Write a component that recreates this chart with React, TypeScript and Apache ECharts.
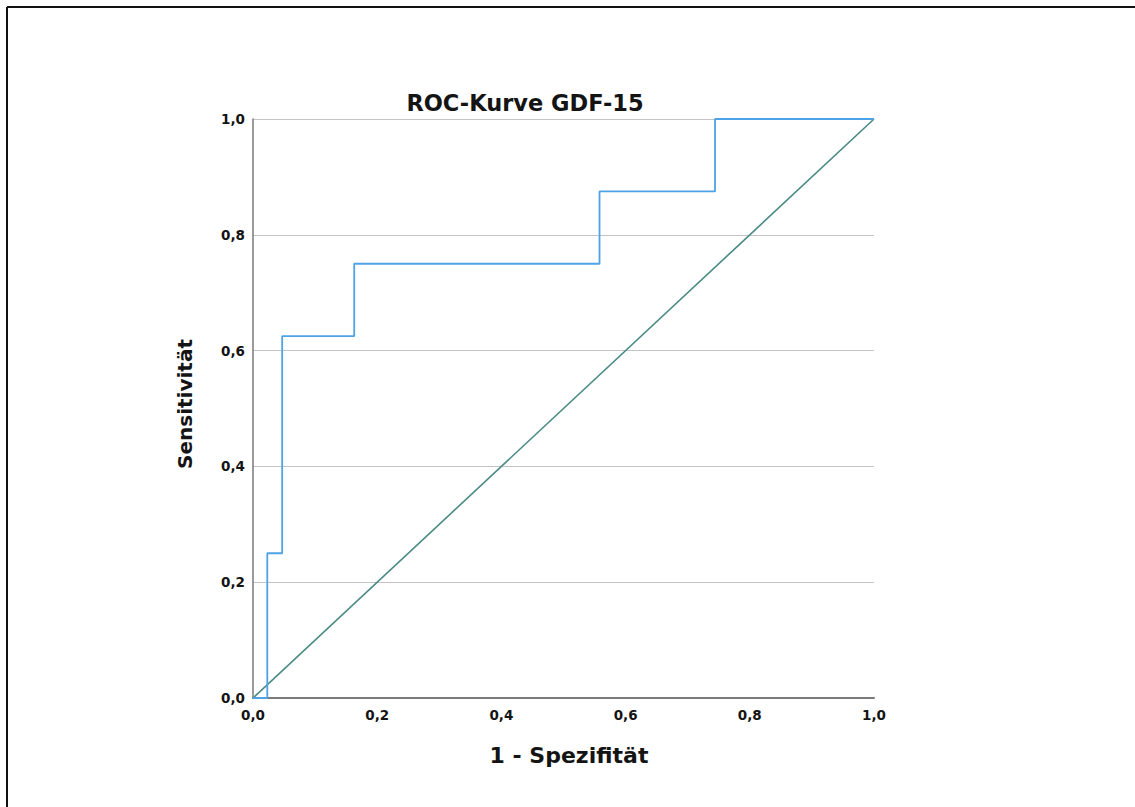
import React, { useEffect, useRef } from "react";
import * as echarts from "echarts";

// ROC curve coordinates (1 - specificity, sensitivity)
const rocFpr = [0, 0.023, 0.023, 0.047, 0.047, 0.163, 0.163, 0.558, 0.558, 0.744, 0.744, 1.0];
const rocTpr = [0, 0, 0.25, 0.25, 0.625, 0.625, 0.75, 0.75, 0.875, 0.875, 1.0, 1.0];

// Reference diagonal
const diagX = [0, 1];
const diagY = [0, 1];

const titleText = "ROC-Kurve GDF-15";
const xName = "1 - Spezifität";
const yName = "Sensitivität";

const FONT = "'DejaVu Sans', Verdana, sans-serif";
const INK = "#141414";

const fmt = (v: number) => v.toFixed(1).replace(".", ",");

export default function App() {
  const ref = useRef<HTMLDivElement>(null);

  useEffect(() => {
    if (!ref.current) return;
    const chart = echarts.init(ref.current, undefined, { renderer: "svg" });
    const labelStyle = {
      fontFamily: FONT,
      fontWeight: "bold" as const,
      fontSize: 13.5,
      color: INK,
    };
    chart.setOption({
      animation: false,
      backgroundColor: "#ffffff",
      grid: { left: 253, top: 119, right: 261, bottom: 109, containLabel: false },
      xAxis: {
        type: "value",
        min: 0,
        max: 1,
        interval: 0.2,
        axisLine: { show: true, lineStyle: { color: "#7a7a7a", width: 2 } },
        axisTick: { show: false },
        splitLine: { show: false },
        axisLabel: { ...labelStyle, margin: 10, formatter: fmt },
      },
      yAxis: {
        type: "value",
        min: 0,
        max: 1,
        interval: 0.2,
        axisLine: { show: true, lineStyle: { color: "#7a7a7a", width: 1.5 } },
        axisTick: { show: false },
        splitLine: { show: true, lineStyle: { color: "#c4c4c4", width: 1 } },
        axisLabel: { ...labelStyle, margin: 8, formatter: fmt },
      },
      series: [
        {
          type: "line",
          data: diagX.map((x, i) => [x, diagY[i]]),
          symbol: "none",
          lineStyle: { color: "#4a8a86", width: 1.6 },
          z: 2,
        },
        {
          type: "line",
          data: rocFpr.map((x, i) => [x, rocTpr[i]]),
          symbol: "none",
          lineStyle: { color: "#4da3e6", width: 1.8 },
          z: 3,
        },
      ],
      graphic: [
        {
          type: "line",
          shape: { x1: 7, y1: 7, x2: 1135, y2: 7 },
          style: { stroke: "#111111", lineWidth: 2 },
        },
        {
          type: "line",
          shape: { x1: 7, y1: 7, x2: 7, y2: 807 },
          style: { stroke: "#111111", lineWidth: 2 },
        },
        {
          type: "text",
          x: 525,
          y: 103,
          style: {
            text: titleText,
            fontFamily: FONT,
            fontWeight: "bold",
            fontSize: 22.5,
            fill: INK,
            textAlign: "center",
            textVerticalAlign: "middle",
          },
        },
        {
          type: "text",
          x: 569,
          y: 755,
          style: {
            text: xName,
            fontFamily: FONT,
            fontWeight: "bold",
            fontSize: 22,
            fill: INK,
            textAlign: "center",
            textVerticalAlign: "middle",
          },
        },
        {
          type: "text",
          x: 185,
          y: 404,
          rotation: Math.PI / 2,
          style: {
            text: yName,
            fontFamily: FONT,
            fontWeight: "bold",
            fontSize: 20,
            fill: INK,
            textAlign: "center",
            textVerticalAlign: "middle",
          },
        },
      ],
    });
    return () => chart.dispose();
  }, []);

  return (
    <div
      ref={ref}
      style={{ position: "absolute", left: 0, top: 0, width: 1135, height: 807 }}
    />
  );
}
